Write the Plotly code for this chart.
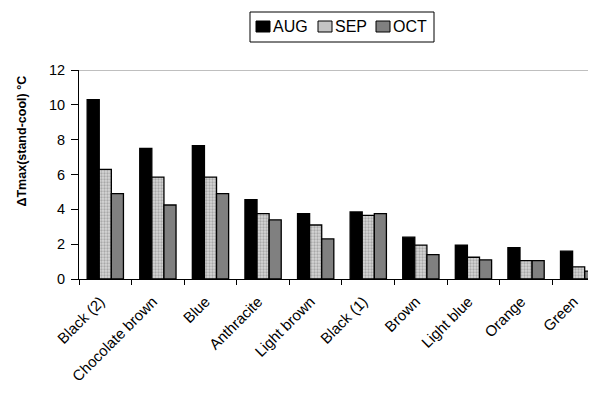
import plotly.graph_objects as go

categories = ["Black (2)", "Chocolate brown", "Blue", "Anthracite", "Light brown",
              "Black (1)", "Brown", "Light blue", "Orange", "Green"]
aug = [10.3, 7.5, 7.65, 4.55, 3.75, 3.85, 2.4, 1.95, 1.8, 1.6]
sep = [6.3, 5.85, 5.85, 3.75, 3.1, 3.65, 1.95, 1.25, 1.05, 0.7]
oct_ = [4.9, 4.25, 4.9, 3.4, 2.3, 3.75, 1.4, 1.1, 1.05, 0.45]
series_names = ["AUG", "SEP", "OCT"]
y_ticks = [0, 2, 4, 6, 8, 10, 12]

FONT = "Liberation Sans, Arial, sans-serif"
C_AUG, C_SEP, C_OCT = "black", "#c4c4c4", "#808080"
line = dict(color="black", width=1.3)

# page body has an 8px margin; window coords = figure coords + 8
OFF = 8
W, H = 596, 399
# desired plot area in window coords: x 79..596, y 70..279
L, T = 79 - OFF, 70 - OFF
R = W - (596 - OFF)
B = H - (279 - OFF)
PW, PH = W - L - R, H - T - B


def px(x):  # window x -> paper
    return (x - OFF - L) / PW


def py(y):  # window y -> paper
    return (H - B - (y - OFF)) / PH


fig = go.Figure()
fig.add_trace(go.Bar(name=series_names[0], x=categories, y=aug,
                     marker=dict(color=C_AUG, line=line)))
fig.add_trace(go.Bar(name=series_names[1], x=categories, y=sep,
                     marker=dict(color=C_SEP, line=line,
                                 pattern=dict(shape=".", fgcolor="#7a7a7a", bgcolor="#d6d6d6",
                                              size=3, solidity=0.45))))
fig.add_trace(go.Bar(name=series_names[2], x=categories, y=oct_,
                     marker=dict(color=C_OCT, line=line)))

# custom legend (box, swatches, labels)
shapes = [dict(type="line", xref="paper", yref="y", x0=0, x1=1, y0=12, y1=12,
               line=dict(color="#808080", width=1)),
          dict(type="rect", xref="paper", yref="paper", x0=px(250), x1=px(434),
               y0=py(42), y1=py(12), line=dict(color="black", width=1), fillcolor="white")]
annotations = []
legend_items = [(series_names[0], C_AUG, 256), (series_names[1], C_SEP, 318),
                (series_names[2], C_OCT, 376)]
for name, col, x0 in legend_items:
    shapes.append(dict(type="rect", xref="paper", yref="paper", x0=px(x0), x1=px(x0 + 14),
                       y0=py(32), y1=py(21), line=dict(color="black", width=1), fillcolor=col))
    annotations.append(dict(text=name, xref="paper", yref="paper", x=px(x0 + 15), y=py(26.5),
                            xanchor="left", yanchor="middle", showarrow=False,
                            font=dict(size=16)))

annotations.append(dict(text="<b>ΔTmax(stand-cool) °C</b>", textangle=-90,
                        xref="paper", yref="paper", x=px(21), y=py(141.5),
                        xanchor="center", yanchor="middle", showarrow=False,
                        font=dict(size=12.5)))

fig.update_layout(
    width=W, height=H,
    margin=dict(l=L, r=R, t=T, b=B),
    barmode="group", bargap=0.31, bargroupgap=0,
    plot_bgcolor="white", paper_bgcolor="white",
    font=dict(family=FONT, size=14, color="black"),
    showlegend=False,
    xaxis=dict(range=[-0.5, 9.33], showline=True, linecolor="black", linewidth=1,
               ticks="outside", ticklen=5, tickcolor="black", tickson="boundaries",
               tickangle=-45, showgrid=False, tickfont=dict(size=15), automargin=False,
               ticklabelstandoff=7, ticklabelshift=-5),
    yaxis=dict(range=[0, 12], tickvals=y_ticks, showline=True, linecolor="black", linewidth=1,
               ticks="outside", ticklen=7, tickcolor="black", showgrid=False,
               zeroline=False, tickfont=dict(size=14.5), automargin=False,
               ticklabelstandoff=3),
    shapes=shapes,
    annotations=annotations,
)

fig.write_html("out.html")
